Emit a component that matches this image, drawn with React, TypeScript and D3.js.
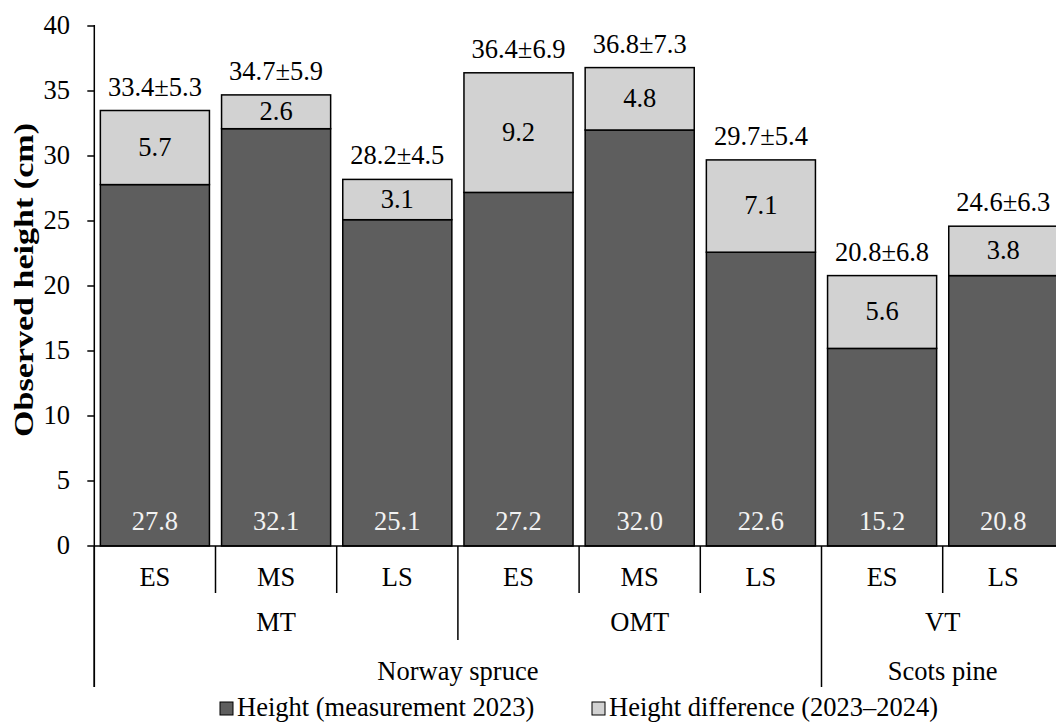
import React from "react";
import * as d3 from "d3";

// Stand categories, left to right
const stages = ["ES", "MS", "LS", "ES", "MS", "LS", "ES", "LS"];
const siteTypes = [
  { name: "MT", from: 0, to: 3 },
  { name: "OMT", from: 3, to: 6 },
  { name: "VT", from: 6, to: 8 },
];
const species = [
  { name: "Norway spruce", from: 0, to: 6 },
  { name: "Scots pine", from: 6, to: 8 },
];

// Height measured in 2023 (cm)
const height2023 = [27.8, 32.1, 25.1, 27.2, 32.0, 22.6, 15.2, 20.8];
// Height gain between 2023 and 2024 (cm)
const heightDiff = [5.7, 2.6, 3.1, 9.2, 4.8, 7.1, 5.6, 3.8];
// Height in 2024, mean ± SD
const totalLabels = [
  "33.4±5.3",
  "34.7±5.9",
  "28.2±4.5",
  "36.4±6.9",
  "36.8±7.3",
  "29.7±5.4",
  "20.8±6.8",
  "24.6±6.3",
];
const yTicks = [0, 5, 10, 15, 20, 25, 30, 35, 40];

const W = 1056;
const H = 726;
const left = 94.3;
const right = 1063.9;
const top = 26;
const bottom = 546;

const DARK = "#5e5e5e";
const LIGHT = "#d2d2d2";
const FONT = "'Liberation Serif', 'DejaVu Serif', serif";
const FS = 26.5;
const txt: React.CSSProperties = { fontFamily: FONT };

export default function App() {
  const idx = stages.map((_, i) => i);
  const x = d3
    .scaleBand<number>()
    .domain(idx)
    .range([left, right])
    .paddingInner(0.1)
    .paddingOuter(0.05);
  const y = d3.scaleLinear().domain([0, 40]).range([bottom, top]);
  const step = x.step();
  const edge = (i: number) => left + i * step;

  // Depth of each separator line below the axis
  const sepDepth = (i: number) => {
    if (i === 0 || i === 6 || i === 8) return 687;
    if (i === 3) return 640;
    return 593;
  };

  return (
    <svg
      width={W}
      height={H}
      style={{ position: "absolute", left: 0, top: 0, display: "block" }}
    >
      <rect width={W} height={H} fill="#fff" />

      {/* bars */}
      {idx.map((i) => {
        const x0 = x(i)!;
        const bw = x.bandwidth();
        const h = height2023[i];
        const d = heightDiff[i];
        return (
          <g key={i}>
            <rect
              x={x0}
              y={y(h)}
              width={bw}
              height={y(0) - y(h)}
              fill={DARK}
              stroke="#000"
              strokeWidth={1.5}
            />
            <rect
              x={x0}
              y={y(h + d)}
              width={bw}
              height={y(h) - y(h + d)}
              fill={LIGHT}
              stroke="#000"
              strokeWidth={1.5}
            />
            <text
              x={x0 + bw / 2}
              y={y(0) - 16}
              textAnchor="middle"
              fontSize={FS}
              fill="#f2f2f2"
              style={txt}
            >
              {h.toFixed(1)}
            </text>
            <text
              x={x0 + bw / 2}
              y={(y(h) + y(h + d)) / 2 + 8}
              textAnchor="middle"
              fontSize={FS}
              fill="#000"
              style={txt}
            >
              {d.toFixed(1)}
            </text>
            <text
              x={x0 + bw / 2}
              y={y(h + d) - 15}
              textAnchor="middle"
              fontSize={FS}
              fill="#000"
              style={txt}
            >
              {totalLabels[i]}
            </text>
          </g>
        );
      })}

      {/* y axis */}
      <line x1={left} x2={left} y1={top - 1} y2={687} stroke="#000" strokeWidth={1.5} />
      {yTicks.map((t) => (
        <g key={t}>
          <line x1={left - 7} x2={left} y1={y(t)} y2={y(t)} stroke="#000" strokeWidth={1.5} />
          <text x={70} y={y(t) + 8} textAnchor="end" fontSize={FS} fill="#000" style={txt}>
            {t}
          </text>
        </g>
      ))}
      <text
        transform={`translate(33, 280) rotate(-90)`}
        textAnchor="middle"
        fontSize={28}
        fontWeight="bold"
        fill="#000"
        textLength={314}
        lengthAdjust="spacingAndGlyphs"
        style={txt}
      >
        Observed height (cm)
      </text>

      {/* x axis and hierarchical category labels */}
      <line x1={left} x2={right} y1={bottom} y2={bottom} stroke="#000" strokeWidth={1.5} />
      {d3.range(0, 9).map((i) => (
        <line
          key={i}
          x1={edge(i)}
          x2={edge(i)}
          y1={bottom}
          y2={sepDepth(i)}
          stroke="#000"
          strokeWidth={1.5}
        />
      ))}
      {stages.map((s, i) => (
        <text
          key={i}
          x={x(i)! + x.bandwidth() / 2}
          y={586}
          textAnchor="middle"
          fontSize={FS}
          fill="#000"
          style={txt}
        >
          {s}
        </text>
      ))}
      {siteTypes.map((g) => (
        <text
          key={g.name}
          x={(edge(g.from) + edge(g.to)) / 2}
          y={631}
          textAnchor="middle"
          fontSize={FS}
          fill="#000"
          style={txt}
        >
          {g.name}
        </text>
      ))}
      {species.map((g) => (
        <text
          key={g.name}
          x={(edge(g.from) + edge(g.to)) / 2}
          y={680}
          textAnchor="middle"
          fontSize={FS}
          fill="#000"
          style={txt}
        >
          {g.name}
        </text>
      ))}

      {/* legend */}
      <g>
        <rect x={220} y={702} width={13} height={13} fill={DARK} stroke="#000" strokeWidth={1} />
        <text x={237} y={716} fontSize={FS} fill="#000" style={txt}>
          Height (measurement 2023)
        </text>
        <rect x={592} y={702} width={13} height={13} fill={LIGHT} stroke="#000" strokeWidth={1} />
        <text x={609} y={716} fontSize={FS} fill="#000" style={txt}>
          Height difference (2023–2024)
        </text>
      </g>
    </svg>
  );
}
